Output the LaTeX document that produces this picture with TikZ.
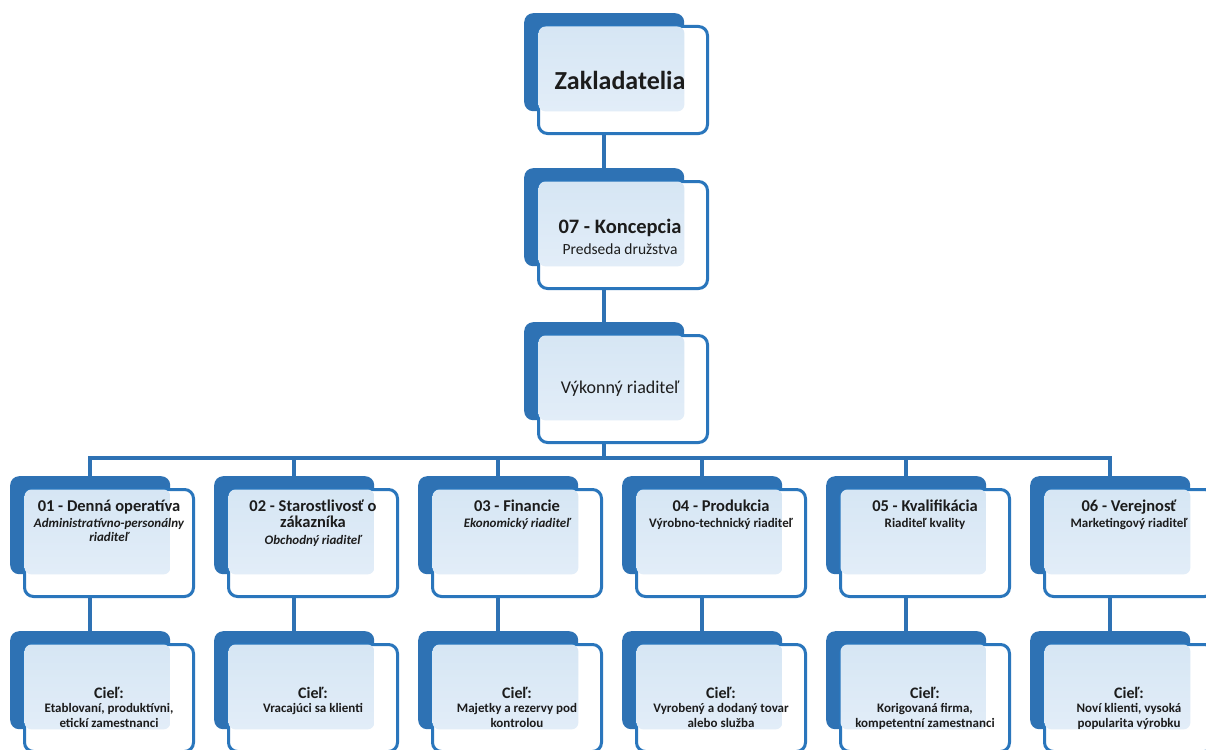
\documentclass[tikz,border=0pt]{standalone}
\usepackage{fontspec}
\setmainfont{Carlito}
\usetikzlibrary{backgrounds,calc}
\definecolor{bdark}{HTML}{2E72B4}
\definecolor{bline}{HTML}{2A76BC}
\definecolor{blightA}{HTML}{D6E6F4}
\definecolor{blightB}{HTML}{E2EDF8}
\definecolor{ink}{HTML}{1C1C1C}
\tikzset{
  backbox/.style={fill=bdark, rounded corners=9pt, minimum width=160pt, minimum height=98pt, inner sep=0pt, anchor=north west},
  frontbox/.style={fill=white, draw=bline, line width=3pt, rounded corners=9pt, minimum width=169pt, minimum height=107pt, inner sep=0pt, anchor=north west},
  conn/.style={draw=bdark, line width=4pt},
  lbl/.style={text=ink, align=center, inner sep=0pt},
  toplbl/.style={lbl, anchor=north, font=\bfseries\fontsize{13}{14}\selectfont},
  goallbl/.style={lbl, anchor=north, font=\bfseries\fontsize{13}{14.5}\selectfont},
}
\newcommand\orgbox[3]{%
  \node[backbox] (#1-b) at (#2,#3) {};
  \node[frontbox] (#1) at ($(#2,#3)+(13,12)$) {};
  \shade[top color=blightA, bottom color=blightB, rounded corners=7pt]
    ([shift={(1.5pt,-1.5pt)}]#1.north west) rectangle (#1-b.south east);
}
\newcommand\ttl[1]{{\fontsize{16.5}{14}\selectfont #1}}
\newcommand\goal{{\fontsize{16}{14.5}\selectfont Cieľ:}}
\begin{document}
\begin{tikzpicture}[x=1pt,y=-1pt]
\useasboundingbox (0,0) rectangle (1206,749);

% boxes
\orgbox{zak}{524}{13}
\orgbox{kon}{524}{168}
\orgbox{vyk}{524}{322}
\foreach \i in {1,...,6}{
  \pgfmathsetmacro\bx{10+204*(\i-1)}
  \orgbox{c\i}{\bx}{476}
  \orgbox{g\i}{\bx}{631}
}

% connectors
\begin{scope}[on background layer]
  \fill[white] (0,0) rectangle (1206,749);
  \coordinate (bus) at (0,458);
  \draw[conn] (zak-b |- zak.south) -- (kon-b.north);
  \draw[conn] (kon-b |- kon.south) -- (vyk-b.north);
  \draw[conn] (vyk-b |- vyk.south) -- (vyk-b |- bus);
  \draw[conn] (c1-b.north) -- (c1-b.north |- bus) -- (c6-b.north |- bus) -- (c6-b.north);
  \foreach \i in {2,...,5}{ \draw[conn] (c\i-b.north) -- (c\i-b.north |- bus); }
  \foreach \i in {1,...,6}{ \draw[conn] (c\i-b |- c\i.south) -- (g\i-b.north); }
\end{scope}

% texts
\node[lbl, font=\bfseries\fontsize{26}{30}\selectfont] (t-zak) at ([xshift=-3pt]zak.center) {Zakladatelia};
\node[lbl, font=\fontsize{15.5}{21}\selectfont] (t-kon) at ([xshift=-3pt,yshift=-2pt]kon.center)
  {{\bfseries\fontsize{20.5}{21}\selectfont 07 - Koncepcia}\\Predseda družstva};
\node[lbl, font=\fontsize{18}{21}\selectfont] (t-vyk) at ([xshift=-3pt]vyk.center) {Výkonný riaditeľ};

\node[toplbl] (t-c1) at ([yshift=-12pt]c1.north) {\ttl{01 - Denná operatíva}\\[2pt]\itshape Administratívno-personálny\\\itshape riaditeľ};
\node[toplbl] (t-c2) at ([yshift=-12pt]c2.north) {\ttl{02 - Starostlivosť o}\\[2pt]\ttl{zákazníka}\\[3pt]\itshape Obchodný riaditeľ};
\node[toplbl] (t-c3) at ([yshift=-12pt]c3.north) {\ttl{03 - Financie}\\[2pt]\itshape Ekonomický riaditeľ};
\node[toplbl] (t-c4) at ([yshift=-12pt]c4.north) {\ttl{04 - Produkcia}\\[2pt]Výrobno-technický riaditeľ};
\node[toplbl] (t-c5) at ([yshift=-12pt]c5.north) {\ttl{05 - Kvalifikácia}\\[2pt]Riaditeľ kvality};
\node[toplbl] (t-c6) at ([yshift=-12pt]c6.north) {\ttl{06 - Verejnosť}\\[2pt]Marketingový riaditeľ};

\node[goallbl] (t-g1) at ([yshift=-44pt]g1.north) {\goal\\Etablovaní, produktívni,\\etickí zamestnanci};
\node[goallbl] (t-g2) at ([yshift=-44pt]g2.north) {\goal\\Vracajúci sa klienti};
\node[goallbl] (t-g3) at ([yshift=-44pt]g3.north) {\goal\\Majetky a rezervy pod\\kontrolou};
\node[goallbl] (t-g4) at ([yshift=-44pt]g4.north) {\goal\\Vyrobený a dodaný tovar\\alebo služba};
\node[goallbl] (t-g5) at ([yshift=-44pt]g5.north) {\goal\\Korigovaná firma,\\kompetentní zamestnanci};
\node[goallbl] (t-g6) at ([yshift=-44pt]g6.north) {\goal\\Noví klienti, vysoká\\popularita výrobku};
\end{tikzpicture}
\end{document}
